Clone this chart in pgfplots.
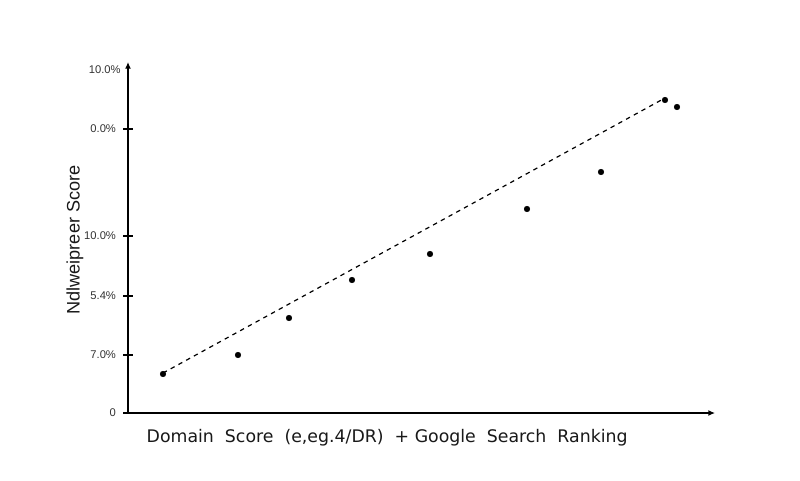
\documentclass[border=0pt]{standalone}
\usepackage{pgfplots}
\pgfplotsset{compat=1.18}
\usepackage{fontspec}
\setmainfont{Liberation Sans}
\newfontfamily\dejavu{DejaVu Sans}
\usetikzlibrary{arrows.meta}
\begin{document}
\begin{tikzpicture}
\useasboundingbox[fill=white] (-96pt,-50.25pt) rectangle (504pt,309.75pt);
\begin{axis}[
  at={(0,0)}, anchor=origin,
  x=0.75pt, y=0.75pt,
  xmin=0, xmax=587, ymin=0, ymax=351,
  axis lines=left,
  axis line style={line width=1.1pt, -{Latex[length=5pt,width=4.5pt]}},
  clip=false,
  xtick=\empty,
  ytick={0,58,117,177,284},
  yticklabels={0,7.0\%,5.4\%,10.0\%,0.0\%},
  extra y ticks={343},
  extra y tick labels={10.0\%},
  extra y tick style={major tick length=0pt},
  tick align=center,
  major tick length=7pt,
  tick style={line width=0.9pt, black},
  yticklabel style={font=\fontsize{8.4}{10}\selectfont, text=black!80, xshift=-2pt},
  /pgf/number format/assume math mode=true,
]
\addplot[black, line width=0.9pt, dash pattern=on 3.3pt off 3.3pt] coordinates {(35,40) (537,315)};
\addplot[only marks, mark=*, mark size=2.1pt, black] coordinates {
(35,39) (110,58) (161,95) (224,133) (302,159) (399,204) (473,241) (537,313) (549,306)};
\node[anchor=west, font=\dejavu\fontsize{13}{15}\selectfont, text=black!90] at (axis cs:14,-25) {Domain\ \ Score\ \ (e,eg.4/DR)\ \ +\ Google\ \ Search\ \ Ranking};
\node[rotate=90, font=\fontsize{13.6}{15}\selectfont, text=black!90] at (axis cs:-53,173) {Ndlweipreer Score};
\end{axis}
\end{tikzpicture}
\end{document}
